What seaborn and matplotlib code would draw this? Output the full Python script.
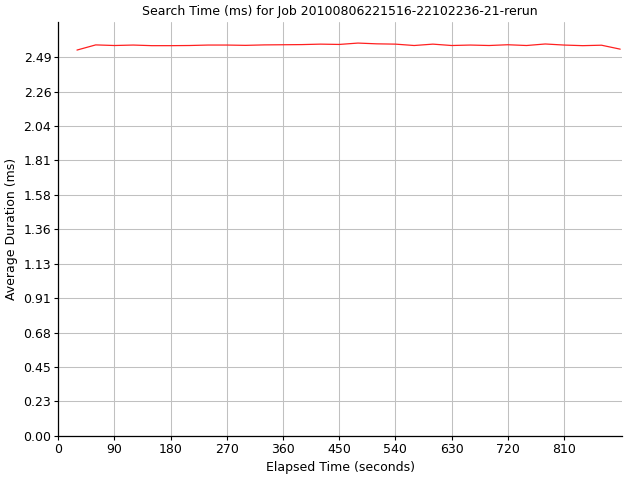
import numpy as np
import pandas as pd
import matplotlib
matplotlib.use("Agg")
import matplotlib.pyplot as plt
import seaborn as sns

# data
elapsed = [30, 60, 90, 120, 150, 180, 210, 240, 270, 300,
           330, 360, 390, 420, 450, 480, 510, 540, 570, 600,
           630, 660, 690, 720, 750, 780, 810, 840, 870, 900]
duration = [2.536, 2.570, 2.566, 2.569, 2.565, 2.565, 2.566, 2.569, 2.569, 2.567,
            2.570, 2.571, 2.572, 2.575, 2.573, 2.582, 2.577, 2.575, 2.566, 2.575,
            2.566, 2.569, 2.566, 2.571, 2.566, 2.576, 2.569, 2.565, 2.568, 2.542]

x_ticks = [0, 90, 180, 270, 360, 450, 540, 630, 720, 810]
y_tick_labels = ["0.00", "0.23", "0.45", "0.68", "0.91", "1.13",
                 "1.36", "1.58", "1.81", "2.04", "2.26", "2.49"]

df = pd.DataFrame({"elapsed": elapsed, "duration": duration})

sns.set_style("whitegrid", {"text.color": "black", "axes.labelcolor": "black",
                            "xtick.color": "black", "ytick.color": "black"})
plt.rcParams['font.family'] = ['DejaVu Sans']

fig = plt.figure(figsize=(6.4, 4.8), dpi=100)
ax = fig.add_axes([0.091, 0.092, 0.881, 0.862])

sns.lineplot(data=df, x="elapsed", y="duration", color="#ff2020",
             linewidth=0.9, ax=ax)

ax.set_xlim(0, 903)
ax.set_ylim(0, 2.72)
ax.set_xticks(x_ticks)
ax.set_xticklabels([str(v) for v in x_ticks])
ax.set_yticks([i * 2.49 / 11 for i in range(12)])
ax.set_yticklabels(y_tick_labels)

ax.grid(True, color="#c0c0c0", linewidth=0.75)
for side in ["top", "right"]:
    ax.spines[side].set_visible(False)
for side in ["left", "bottom"]:
    ax.spines[side].set_color("black")
    ax.spines[side].set_linewidth(0.9)

ax.tick_params(axis="both", which="major", direction="out", length=3,
               width=0.8, color="black", labelcolor="black", labelsize=9,
               pad=2, left=True, bottom=True)

ax.set_xlabel("Elapsed Time (seconds)", fontsize=9, labelpad=4, color="black")
ax.set_ylabel("Average Duration (ms)", fontsize=9, labelpad=4, color="black")
ax.set_title("Search Time (ms) for Job 20100806221516-22102236-21-rerun",
             fontsize=9, pad=5, color="black")

fig.savefig("out.png", dpi=100)
